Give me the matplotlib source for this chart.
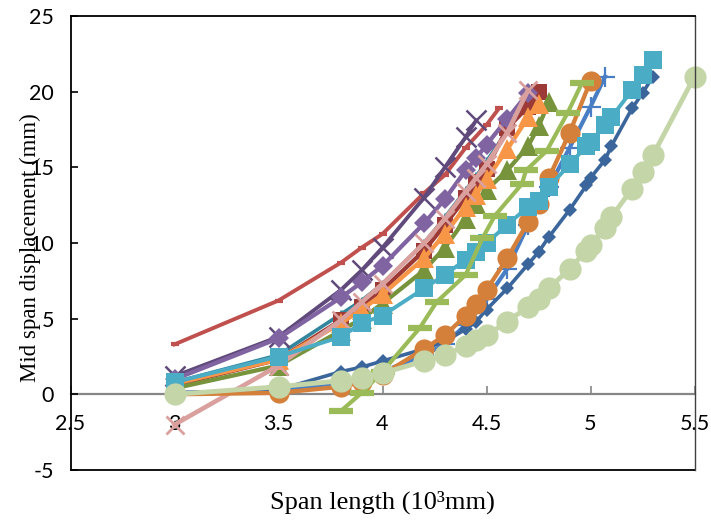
import matplotlib
matplotlib.use("Agg")
import matplotlib.pyplot as plt

# ---- data (span length in 10^3 mm, mid-span displacement in mm) ----
teal_x = [3, 3.5, 3.8, 3.9, 4.0, 4.2, 4.3, 4.4, 4.45, 4.5, 4.6, 4.7]
teal_y = [0.8, 2.6, 5.3, 6.2, 7.3, 10.0, 11.7, 13.5, 14.4, 15.4, 17.4, 19.6]

dred_x = [3, 3.5, 3.8, 3.9, 4.0, 4.2, 4.3, 4.4, 4.45, 4.5, 4.6, 4.7, 4.75]
dred_y = [0.6, 2.3, 4.9, 5.8, 6.9, 9.5, 11.2, 13.0, 14.0, 14.9, 17.6, 19.0, 20.0]

red_x = [3, 3.5, 3.8, 3.9, 4.0, 4.2, 4.3, 4.4, 4.5, 4.56]
red_y = [3.3, 6.2, 8.7, 9.7, 10.6, 13.3, 14.5, 16.3, 17.8, 18.9]

dpur_x = [3, 3.5, 3.8, 3.9, 4.0, 4.2, 4.3, 4.4, 4.45]
dpur_y = [1.2, 3.8, 6.9, 8.2, 9.7, 13.0, 15.0, 17.0, 18.1]

pur_x = [3, 3.5, 3.8, 3.9, 4.0, 4.2, 4.3, 4.4, 4.45, 4.5, 4.6, 4.7]
pur_y = [1.0, 3.7, 6.4, 7.4, 8.5, 11.3, 12.9, 14.8, 15.6, 16.5, 18.2, 19.9]

gtri_x = [3, 3.5, 3.8, 3.9, 4.0, 4.2, 4.3, 4.4, 4.45, 4.5, 4.6, 4.7, 4.75, 4.8]
gtri_y = [0.4, 1.9, 4.2, 5.0, 6.0, 8.2, 9.7, 11.6, 12.6, 13.5, 14.8, 16.4, 17.7, 19.3]

otri_x = [3, 3.5, 3.8, 3.9, 4.0, 4.2, 4.3, 4.4, 4.45, 4.5, 4.6, 4.7, 4.75]
otri_y = [0.7, 2.3, 4.7, 5.6, 6.6, 9.0, 10.6, 12.4, 13.2, 14.2, 16.2, 18.3, 19.2]

pink_x = [3, 3.5, 3.8, 3.9, 4.0, 4.2, 4.3, 4.4, 4.45, 4.5, 4.6, 4.7]
pink_y = [-2.0, 1.9, 4.9, 6.1, 7.3, 10.0, 11.6, 13.4, 14.3, 15.2, 17.3, 20.1]

bplus_x = [3, 3.5, 3.8, 3.9, 4.0, 4.2, 4.3, 4.4, 4.5, 4.6, 4.7, 4.8, 4.9, 5.0, 5.07]
bplus_y = [0.1, 0.2, 0.8, 1.0, 1.5, 2.6, 3.3, 4.6, 6.3, 8.3, 11.2, 13.7, 16.3, 19.0, 21.0]

dblue_x = [3, 3.5, 3.8, 3.9, 4.0, 4.2, 4.3, 4.4, 4.45, 4.5, 4.6, 4.7, 4.75, 4.8,
           4.9, 4.98, 5.0, 5.07, 5.1, 5.2, 5.25, 5.3]
dblue_y = [0.1, 0.3, 1.5, 1.8, 2.2, 3.0, 3.5, 4.3, 4.8, 5.6, 7.0, 8.6, 9.4, 10.4,
           12.2, 13.8, 14.3, 15.5, 16.4, 18.9, 19.9, 21.0]

ocir_x = [3, 3.5, 3.8, 3.9, 4.0, 4.2, 4.3, 4.4, 4.45, 4.5, 4.6, 4.7, 4.75, 4.8, 4.9, 5.0]
ocir_y = [0.0, 0.1, 0.5, 0.8, 1.3, 3.0, 3.9, 5.2, 6.0, 6.9, 9.0, 11.4, 12.6, 14.3, 17.3, 20.7]

aqua_x = [3, 3.5, 3.8, 3.9, 4.0, 4.2, 4.3, 4.4, 4.45, 4.5, 4.6, 4.7, 4.75, 4.8,
          4.9, 4.98, 5.0, 5.07, 5.1, 5.2, 5.25, 5.3]
aqua_y = [0.8, 2.5, 3.8, 4.7, 5.2, 7.0, 7.9, 8.9, 9.4, 10.0, 11.2, 12.4, 12.8, 13.7,
          15.2, 16.4, 16.7, 17.8, 18.3, 20.1, 21.1, 22.1]

gdash_x = [3.8, 3.9, 4.0, 4.18, 4.26, 4.4, 4.48, 4.54, 4.67, 4.69, 4.79, 4.89, 4.96]
gdash_y = [-1.1, 0.1, 1.5, 4.4, 6.1, 7.9, 10.3, 11.8, 13.9, 14.8, 16.1, 18.6, 20.6]

lgc_x = [3, 3.5, 3.8, 3.9, 4.0, 4.2, 4.3, 4.4, 4.45, 4.5, 4.6, 4.7, 4.75, 4.8,
         4.9, 4.98, 5.0, 5.07, 5.1, 5.2, 5.25, 5.3, 5.5]
lgc_y = [0.0, 0.5, 0.9, 1.1, 1.4, 2.2, 2.6, 3.2, 3.6, 3.9, 4.8, 5.8, 6.3, 7.0,
         8.3, 9.5, 9.9, 11.0, 11.7, 13.6, 14.7, 15.8, 21.0]

x_ticks = [2.5, 3, 3.5, 4, 4.5, 5, 5.5]
x_tick_labels = ["2.5", "3", "3.5", "4", "4.5", "5", "5.5"]
y_ticks = [-5, 0, 5, 10, 15, 20, 25]
y_tick_labels = ["-5", "0", "5", "10", "15", "20", "25"]

# ---- figure ----
W, H = 711, 521
fig = plt.figure(figsize=(W / 100, H / 100), dpi=100)
ax = fig.add_axes([70.5 / W, 51 / H, 624 / W, 454 / H])

def series(x, y, color, marker, ms, lw=3.1, mew=0, mfc=None):
    ax.plot(x, y, color=color, lw=lw, marker=marker, ms=ms,
            mfc=mfc if mfc is not None else color, mec=color, mew=mew,
            solid_joinstyle="round", clip_on=False)

series(teal_x, teal_y, "#31859C", "|", 6, lw=2.6, mew=2)
series(dred_x, dred_y, "#9B3A36", "s", 11)
series(red_x, red_y, "#C0504D", "_", 6, lw=2.8, mew=3)
series(dpur_x, dpur_y, "#604A7B", "x", 15, lw=2.8, mew=1.8)
series(pur_x, pur_y, "#8064A2", "D", 10)
series(gtri_x, gtri_y, "#77933C", "^", 14.5)
series(otri_x, otri_y, "#F79646", "^", 14.5)
series(pink_x, pink_y, "#D9A09E", "x", 13, lw=3.3, mew=2)
series(bplus_x, bplus_y, "#4A7EC4", "+", 15, lw=3.0, mew=1.6)
series(dblue_x, dblue_y, "#3A669C", "D", 7.5, lw=2.6)
series(ocir_x, ocir_y, "#D5803A", "o", 14.5)
series(aqua_x, aqua_y, "#4BACC6", "s", 13, lw=2.8)
series(gdash_x, gdash_y, "#9BBB59", "_", 17, lw=3.0, mew=4.5)
series(lgc_x, lgc_y, "#C4D6A8", "o", 16, lw=3.5)

ax.set_xlim(2.5, 5.5)
ax.set_ylim(-5, 25)

# spines
for s in ["left", "top"]:
    ax.spines[s].set_color("black")
    ax.spines[s].set_linewidth(1.3)
ax.spines["right"].set_color("#404040")
ax.spines["right"].set_linewidth(1.0)
ax.spines["bottom"].set_position(("data", 0))
ax.spines["bottom"].set_color("#868686")
ax.spines["bottom"].set_linewidth(1.6)
ax.spines["bottom"].set_zorder(0.5)
ax.plot([0, 1], [0, 0], transform=ax.transAxes, color="black", lw=1.3, clip_on=False)

tick_font = dict(family="Lato", size=15.5)
ax.set_xticks(x_ticks)
ax.set_xticklabels(x_tick_labels, fontdict=tick_font)
ax.set_yticks(y_ticks)
ax.set_yticklabels(y_tick_labels, fontdict=tick_font)
ax.tick_params(axis="x", direction="in", length=6, width=1.2, color="#868686", pad=14)
ax.tick_params(axis="y", direction="in", length=5, width=1.2, color="black", pad=12)

fig.text(30 / W, 1 - 248 / H, "Mid span displacement (mm)", rotation=90,
         ha="center", va="center", family="Liberation Serif", size=16.5)
fig.text(382 / W, 1 - 502 / H, "Span length (10\u00b3mm)",
         ha="center", va="center", family="Liberation Serif", size=19)

fig.savefig("out.png", dpi=100)
